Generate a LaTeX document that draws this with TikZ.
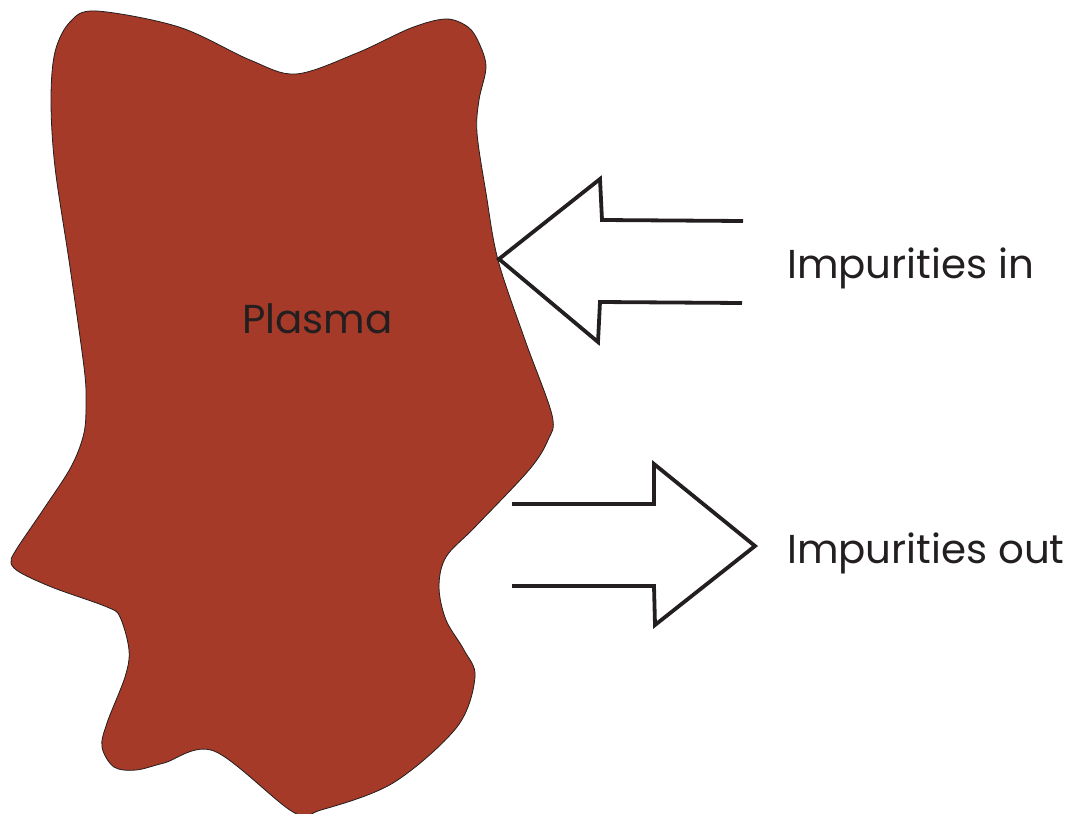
\documentclass[tikz,border=0pt]{standalone}
\usepackage{fontspec}
\setmainfont{Poppins}
\usepackage{tikz}
\usetikzlibrary{positioning}

\definecolor{plasmared}{RGB}{164,58,39}
\definecolor{inkgray}{RGB}{35,31,32}

\tikzset{
  blob/.style={fill=plasmared,draw=inkgray,line width=0.8bp},
  fatarrow/.style={draw=inkgray,line width=3.8bp,line join=miter},
  label/.style={inner sep=0pt,text=inkgray,font=\fontsize{40.5}{46}\selectfont}
}

\begin{document}
\begin{tikzpicture}[x=1bp,y=-1bp]

\useasboundingbox (0,0) rectangle (1068,814);

% plasma region
\draw[blob] plot[smooth cycle,tension=0.55] coordinates {
  (70,22) (96,11) (179,27) (250,60) (296,74) (357,53) (411,28) (446,19)
  (468,27) (479,43) (486,67) (479,100) (477,133) (486,193) (498,260)
  (525,340) (552,415) (548,440) (529,470) (475,527) (446,557) (439,587)
  (446,620) (464,650) (475,677) (457,727) (393,783) (321,810) (293,812)
  (214,751) (164,763) (136,770) (114,767) (102,747) (107,723) (125,677)
  (129,650) (120,617) (107,607) (54,588) (21,573) (11,563) (16,550)
  (43,510) (71,467) (84,433) (86,400) (84,367) (70,267) (55,167)
  (51,100) (55,52)};

\node[label,anchor=base west] (plasma) at (242,333) {Plasma};

% arrow in
\coordinate (I1) at (743,221);
\coordinate (I2) at (602,220);
\coordinate (I3) at (600,179);
\coordinate (I4) at (499,259);
\coordinate (I5) at (598,342);
\coordinate (I6) at (600,302);
\coordinate (I7) at (742,303);

\draw[fatarrow] (I1)--(I2)--(I3)--(I4)--(I5)--(I6)--(I7);

% arrow out
\coordinate (O1) at (512,504);
\coordinate (O2) at (654,504);
\coordinate (O3) at (654,464);
\coordinate (O4) at (755,546);
\coordinate (O5) at (655,625);
\coordinate (O6) at (654,586);
\coordinate (O7) at (512,586);

\draw[fatarrow] (O1)--(O2)--(O3)--(O4)--(O5)--(O6)--(O7);

\node[label,anchor=base west] (inlabel) at (787,278) {Impurities in};
\node[label,anchor=base west] (outlabel) at (787,563) {Impurities out};

\end{tikzpicture}
\end{document}
